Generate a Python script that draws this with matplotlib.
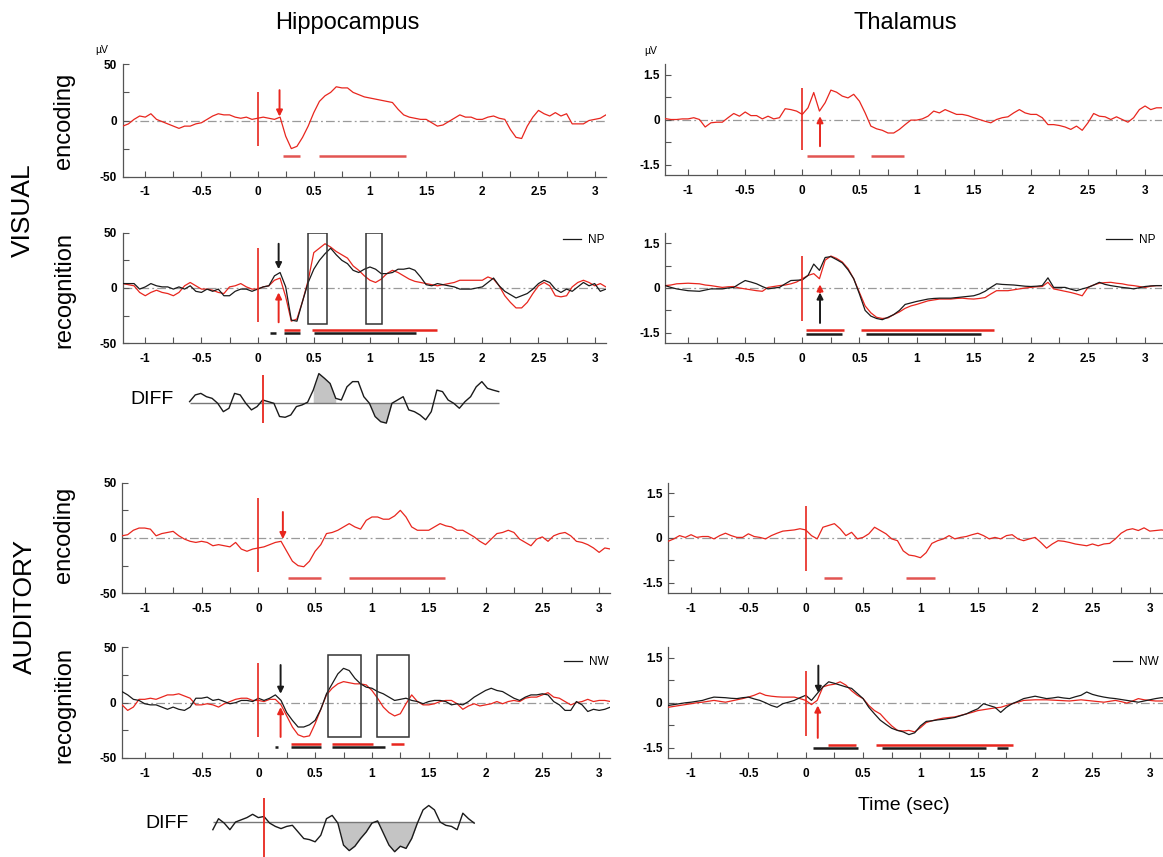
import numpy as np
import matplotlib
matplotlib.use("Agg")
import matplotlib.pyplot as plt
from matplotlib.patches import Rectangle

plt.rcParams['font.family'] = ['Liberation Sans', 'DejaVu Sans']

W, H = 1163, 857

##############################################################################
# Data
##############################################################################

# common time grid of the averaged traces, seconds (-1.2 .. 3.15, 88 samples)
t = np.round(np.arange(-1.2, 3.151, 0.05), 2)

# Hippocampus, microvolts
hip_vis_enc = [-5, -3, 1, 4, 3, 6, 1, -1, -3, -5,
               -7, -5, -5, -3, -2, 1, 4, 6, 5, 5,
               3, 2, 3, 1, 2, 3, 2, 1, 3, -14,
               -25, -23, -15, -5, 7, 17, 22, 25, 30, 29,
               29, 25, 23, 21, 20, 19, 18, 17, 16, 10,
               5, 3, 2, 1, 1, -2, -5, -4, -1, 2,
               5, 3, 3, 1, 1, 3, 4, 2, 1, -8,
               -15, -16, -5, 3, 9, 6, 4, 7, 4, 6,
               -3, -3, -3, 0, 1, 2, 5, 5]
hip_vis_rec_red = [4, 3, 2, -4, -7, -4, -2, -4, -5, -7,
                   -4, 2, 5, 2, -1, -1, -2, -4, -5, 1,
                   2, 4, 1, -1, -1, 1, 2, 7, 9, -8,
                   -30, -28, -12, 7, 32, 36, 40, 37, 33, 30,
                   27, 20, 16, 11, 7, 5, 8, 13, 16, 14,
                   11, 8, 6, 5, 4, 3, 2, 3, 4, 5,
                   7, 7, 7, 7, 7, 10, 8, 2, -7, -13,
                   -18, -18, -13, -5, 2, 5, 2, -7, -8, -7,
                   1, 5, 7, 5, 2, 4, 1, 1]
hip_vis_rec_black = [4, 4, 4, -1, 1, 4, 2, 1, 1, -1,
                     1, -1, 2, -3, -4, -1, -3, -1, -7, -7,
                     -3, -1, -1, -3, -1, 1, 2, 11, 14, 1,
                     -29, -30, -12, 5, 17, 25, 31, 36, 30, 25,
                     22, 16, 14, 17, 19, 17, 13, 13, 14, 17,
                     17, 18, 16, 10, 3, 2, 4, 3, 2, 1,
                     -1, -1, -1, 0, 1, 5, 9, 2, -3, -6,
                     -9, -7, -5, -1, 4, 7, 5, -1, -4, -1,
                     -3, 1, 5, 2, 4, -3, -1, -1]
hip_aud_enc = [2, 3, 7, 9, 9, 8, 2, 4, 5, 6,
               2, -1, -3, -4, -3, -4, -7, -6, -7, -8,
               -4, -10, -12, -10, -9, -8, -6, -4, -3, -12,
               -21, -25, -26, -21, -12, -6, 4, 5, 7, 10,
               13, 10, 8, 16, 19, 19, 17, 17, 20, 25,
               19, 10, 7, 7, 7, 10, 13, 11, 10, 7,
               7, 4, 1, -3, -6, -1, 4, 5, 7, 5,
               -1, -4, -7, -1, 1, -3, 2, 4, 5, 2,
               -3, -4, -6, -9, -13, -9, -10, -10]
hip_aud_rec_red = [-2, -7, -4, 3, 3, 4, 3, 5, 7, 7,
                   8, 6, 4, -2, -2, -1, -2, -4, -1, 1,
                   3, 4, 4, 2, 2, 1, 3, 3, -2, -12,
                   -22, -29, -31, -30, -19, -6, 7, 13, 17, 19,
                   18, 17, 17, 16, 11, 4, -4, -9, -12, -10,
                   -1, 7, 1, -2, -2, -1, 1, 2, 2, -1,
                   -6, -3, -1, -3, -2, -1, 1, -1, 1, 2,
                   1, 4, 5, 5, 7, 9, 5, 4, 1, -2,
                   0, 1, 3, 1, 2, 2, 1, 1]
hip_aud_rec_black = [10, 7, 3, 2, -1, -2, -2, -4, -6, -4,
                     -6, -7, -4, 4, 4, 5, 2, 3, 1, -1,
                     0, 2, 2, 1, 4, 2, 4, 7, 2, -9,
                     -16, -22, -22, -20, -16, -6, 8, 17, 26, 31,
                     29, 22, 17, 14, 13, 10, 8, 5, 2, 3,
                     4, 2, 1, -1, 1, 2, 2, 1, -2, -1,
                     -2, 1, 5, 8, 11, 13, 11, 10, 7, 4,
                     2, 5, 7, 7, 8, 7, 1, -2, -7, -7,
                     1, -2, -8, -6, -7, -6, -4, -4]

# Thalamus, microvolts
tha_vis_enc = [0.03, 0.0, 0.0, 0.02, 0.02, 0.06, 0.0, -0.25, -0.11, -0.09,
               -0.09, 0.06, 0.2, 0.11, 0.25, 0.13, 0.13, 0.02, 0.11, 0.02,
               0.06, 0.36, 0.33, 0.28, 0.17, 0.39, 0.9, 0.28, 0.56, 0.98,
               0.91, 0.78, 0.72, 0.84, 0.61, 0.22, -0.22, -0.31, -0.36, -0.45,
               -0.45, -0.33, -0.17, -0.02, -0.02, 0.02, 0.11, 0.28, 0.22, 0.33,
               0.25, 0.17, 0.17, 0.13, 0.06, 0.0, -0.06, -0.11, 0.0, 0.06,
               0.09, 0.22, 0.33, 0.22, 0.17, 0.17, 0.06, -0.17, -0.17, -0.2,
               -0.25, -0.33, -0.22, -0.36, -0.11, 0.2, 0.11, 0.09, 0.0, 0.09,
               0.0, -0.09, 0.06, 0.33, 0.45, 0.33, 0.39, 0.39]
tha_vis_rec_red = [0.08, 0.1, 0.14, 0.15, 0.16, 0.15, 0.14, 0.1, 0.08, 0.05,
                   0.02, 0.04, 0.05, 0.0, -0.03, -0.06, -0.09, -0.11, 0.02, 0.05,
                   0.08, 0.1, 0.14, 0.2, 0.31, 0.42, 0.48, 0.31, 0.93, 1.07,
                   0.99, 0.87, 0.65, 0.31, -0.15, -0.6, -0.83, -0.98, -1.02, -1.0,
                   -0.89, -0.8, -0.68, -0.6, -0.55, -0.49, -0.43, -0.4, -0.37, -0.37,
                   -0.37, -0.35, -0.34, -0.36, -0.37, -0.35, -0.32, -0.2, -0.09, -0.09,
                   -0.09, -0.06, -0.03, 0.0, 0.02, 0.04, 0.05, 0.19, -0.03, -0.07,
                   -0.11, -0.15, -0.2, -0.26, 0.02, 0.1, 0.16, 0.18, 0.19, 0.16,
                   0.14, 0.1, 0.08, 0.05, 0.02, 0.06, 0.08, 0.08]
tha_vis_rec_black = [0.08, 0.02, -0.03, -0.06, -0.09, -0.1, -0.11, -0.07, -0.03, -0.03,
                     -0.03, 0.0, 0.02, 0.14, 0.25, 0.2, 0.14, 0.05, -0.03, 0.0,
                     0.02, 0.14, 0.25, 0.26, 0.27, 0.42, 0.8, 0.59, 1.02, 1.05,
                     0.95, 0.84, 0.61, 0.31, -0.2, -0.75, -0.94, -1.02, -1.06, -0.98,
                     -0.89, -0.75, -0.55, -0.5, -0.45, -0.41, -0.37, -0.35, -0.34, -0.34,
                     -0.34, -0.32, -0.3, -0.28, -0.26, -0.2, -0.11, 0.02, 0.14, 0.12,
                     0.11, 0.1, 0.08, 0.06, 0.05, 0.06, 0.08, 0.34, 0.02, 0.02,
                     0.02, -0.04, -0.09, -0.03, 0.02, 0.1, 0.19, 0.12, 0.08, 0.05,
                     0.02, 0.0, -0.03, 0.01, 0.05, 0.07, 0.08, 0.08]
tha_aud_enc = [-0.11, -0.03, 0.08, 0.02, 0.11, 0.02, 0.05, 0.05, -0.03, 0.08,
               0.16, 0.08, 0.02, 0.02, 0.14, 0.05, 0.02, -0.03, 0.08, 0.16,
               0.23, 0.25, 0.27, 0.31, 0.27, 0.08, -0.03, 0.36, 0.42, 0.48,
               0.31, 0.08, 0.19, -0.03, 0.02, 0.14, 0.36, 0.25, 0.14, -0.03,
               -0.09, -0.43, -0.57, -0.6, -0.66, -0.49, -0.18, -0.09, -0.03, 0.08,
               -0.03, 0.02, 0.05, 0.11, 0.16, 0.08, -0.03, 0.02, -0.03, 0.08,
               0.11, -0.03, -0.09, -0.03, 0.02, -0.15, -0.34, -0.2, -0.09, -0.11,
               -0.15, -0.2, -0.23, -0.26, -0.2, -0.26, -0.2, -0.18, -0.03, 0.16,
               0.27, 0.31, 0.25, 0.34, 0.23, 0.25, 0.27, 0.25]
tha_aud_rec_red = [-0.15, -0.12, -0.09, -0.06, -0.03, 0.0, 0.02, 0.05, 0.08, 0.05,
                   0.02, 0.06, 0.1, 0.14, 0.19, 0.25, 0.33, 0.25, 0.22, 0.2,
                   0.19, 0.19, 0.19, 0.14, 0.08, -0.06, 0.08, 0.53, 0.59, 0.62,
                   0.7, 0.59, 0.4, 0.25, 0.14, -0.09, -0.26, -0.37, -0.58, -0.77,
                   -0.92, -0.94, -0.92, -0.97, -0.83, -0.66, -0.6, -0.55, -0.51, -0.49,
                   -0.47, -0.42, -0.37, -0.32, -0.26, -0.23, -0.2, -0.17, -0.15, -0.09,
                   -0.03, 0.02, 0.08, 0.09, 0.1, 0.1, 0.1, 0.09, 0.08, 0.07,
                   0.06, 0.08, 0.1, 0.08, 0.06, 0.04, 0.02, 0.05, 0.08, 0.04,
                   -0.01, 0.06, 0.14, 0.1, 0.08, 0.06, 0.06, 0.06]
tha_aud_rec_black = [-0.09, -0.06, -0.03, 0.0, 0.02, 0.05, 0.08, 0.14, 0.19, 0.18,
                     0.17, 0.15, 0.14, 0.17, 0.19, 0.13, 0.08, 0.0, -0.09, -0.15,
                     -0.03, 0.02, 0.08, 0.17, 0.25, 0.08, 0.31, 0.53, 0.7, 0.65,
                     0.59, 0.53, 0.48, 0.31, 0.14, -0.15, -0.37, -0.58, -0.72, -0.85,
                     -0.92, -0.97, -1.06, -1.0, -0.77, -0.62, -0.6, -0.57, -0.55, -0.52,
                     -0.49, -0.43, -0.37, -0.28, -0.2, -0.03, -0.09, -0.15, -0.32, -0.15,
                     -0.03, 0.05, 0.14, 0.18, 0.22, 0.18, 0.14, 0.16, 0.19, 0.16,
                     0.14, 0.2, 0.25, 0.36, 0.28, 0.23, 0.19, 0.16, 0.14, 0.11,
                     0.08, 0.05, 0.02, 0.06, 0.1, 0.14, 0.17, 0.17]

# difference waves (hippocampus), arbitrary units
diff_vis_t = np.round(np.arange(-0.65, 2.101, 0.05), 2)
diff_vis = [1.5, 7.6, 9, 6, 4.5, 0, -7.6, -4.5, 9, 7.6,
            0, -6, -3, 3, 1.5, 0, -12, -12.7, -10.6, -3,
            -1.5, 1, 12, 27, 22.7, 18, 4.5, 3, 15, 19.7,
            19.7, 6, 0, -12, -16.7, -18, 0, 3, 6, -6,
            -7.6, -10.6, -15, -7.6, 12, 10.6, 3, 0, -4.5, 1.5,
            6, 15, 19.7, 13.6, 12, 10.6]
diff_aud_t = np.round(np.arange(-0.45, 1.851, 0.05), 2)
diff_aud = [-7, 3, -1, -7, 0, 2, 4, 7, 4, 5,
            -1, -4, -6, -4, -3, -9, -15, -16, -18, -12,
            3, 6, -1, -21, -26, -22, -15, -9, -1, 1,
            -10, -21, -27, -22, -24, -15, -1, 11, 15, 11,
            0, -3, -4, -7, 8, 3, -1]
diff_vis_windows = [(0.44, 0.67), (0.95, 1.15)]
diff_aud_windows = [(0.64, 0.98), (1.0, 1.36)]

# significant intervals (s) and their level on the axis
sig_hip_vis_enc = [(0.225, 0.374), (0.543, 1.323)]
sig_hip_vis_rec_red = [(0.231, 0.374), (0.483, 1.596)]
sig_hip_vis_rec_black = [(0.107, 0.166), (0.231, 0.374), (0.504, 1.409)]
sig_hip_aud_enc = [(0.261, 0.549), (0.795, 1.64)]
sig_hip_aud_rec_red = [(0.285, 0.552), (0.652, 1.011), (1.165, 1.284)]
sig_hip_aud_rec_black = [(0.148, 0.172), (0.285, 0.552), (0.652, 1.112)]
sig_tha_vis_enc = [(0.038, 0.455), (0.598, 0.89)]
sig_tha_vis_rec_red = [(0.029, 0.368), (0.514, 1.678)]
sig_tha_vis_rec_black = [(0.035, 0.344), (0.554, 1.564)]
sig_tha_aud_enc = [(0.163, 0.318), (0.875, 1.126)]
sig_tha_aud_rec_red = [(0.19, 0.44), (0.613, 1.803)]
sig_tha_aud_rec_black = [(0.067, 0.455), (0.665, 1.57), (1.672, 1.765)]

# analysis windows (boxes) in the hippocampal recognition plots
win_hip_vis = [(0.445, 0.617), (0.966, 1.106)]
win_hip_aud = [(0.611, 0.907), (1.044, 1.329)]

X_TICKS = [-1, -0.5, 0, 0.5, 1, 1.5, 2, 2.5, 3]
X_TICK_LABELS = ['-1', '-0.5', '0', '0.5', '1', '1.5', '2', '2.5', '3']

RED = '#e8261e'
BAR_RED = '#e25552'
BLACK = '#1a1a1a'

##############################################################################
# Plotting helpers
##############################################################################

fig = plt.figure(figsize=(W / 100, H / 100), dpi=100)


def px_rect(x0, y0, x1, y1):
    # pixel box (top-left origin) -> figure fraction rect
    return [x0 / W, 1 - y1 / H, (x1 - x0) / W, (y1 - y0) / H]


def make_axes(box, xlim, lim, yticks, ylabels):
    ax = fig.add_axes(px_rect(*box))
    ax.set_xlim(*xlim)
    ax.set_ylim(-lim, lim)
    for side in ("top", "right"):
        ax.spines[side].set_visible(False)
    for side in ("left", "bottom"):
        ax.spines[side].set_color('#555555')
        ax.spines[side].set_linewidth(0.9)
    ax.set_xticks(X_TICKS)
    ax.set_xticklabels(X_TICK_LABELS)
    ax.set_xticks(np.arange(-0.75, 3.0, 0.5), minor=True)
    ax.set_yticks(yticks[::2])
    ax.set_yticklabels(ylabels)
    ax.set_yticks(yticks[1::2], minor=True)
    ax.tick_params(which='both', direction='in', length=4, width=0.8,
                   color='#555555', labelsize=8.5)
    ax.tick_params(axis='x', pad=7)
    ax.tick_params(axis='y', pad=4)
    for lab in ax.get_xticklabels() + ax.get_yticklabels():
        lab.set_fontweight('bold')
    ax.axhline(0, color='#9a9a9a', lw=0.9, ls=(0, (7, 2.5, 1.5, 2.5)), zorder=1)
    return ax


def draw_panel(ax, traces, stim, arrows, bars, boxes=(), legend=None):
    handles = []
    for values, color in traces:
        h, = ax.plot(t, values, color=color, lw=0.9, zorder=3)
        handles.append(h)
    ax.vlines(0, stim[0], stim[1], color=RED, lw=1.2, zorder=4)
    for x, tail, tip, color in arrows:
        ax.annotate('', xy=(x, tip), xytext=(x, tail),
                    arrowprops=dict(arrowstyle='-|>', color=color, lw=1.4,
                                    mutation_scale=9, shrinkA=0, shrinkB=0),
                    zorder=5)
    for spans, level, color in bars:
        for a, b in spans:
            ax.hlines(level, a, b, color=color, lw=1.8, zorder=3)
    for (a, b), (lo, hi) in boxes:
        ax.add_patch(Rectangle((a, lo), b - a, hi - lo, fill=False,
                               edgecolor='#333333', lw=1.1, zorder=4))
    if legend is not None:
        label, anchor, hlen = legend
        ax.legend([handles[-1]], [label], loc='upper left', bbox_to_anchor=anchor,
                  frameon=False, fontsize=8.5, handlelength=hlen,
                  handletextpad=0.6, borderpad=0, borderaxespad=0)


def draw_diff(box, xlim, tt, values, windows, stim):
    ax = fig.add_axes(px_rect(*box))
    ax.set_xlim(*xlim)
    ax.set_ylim(-31.8, 31.8)
    ax.axis('off')
    tt = np.asarray(tt)
    values = np.asarray(values, dtype=float)
    for a, b in windows:
        mask = (tt >= a - 1e-9) & (tt <= b + 1e-9)
        ax.fill_between(tt, values, 0, where=mask, color='#c4c4c4', lw=0,
                        zorder=1)
    ax.hlines(0, tt[0], tt[-1], color='#777777', lw=1.0, zorder=2)
    ax.plot(tt, values, color=BLACK, lw=1.0, zorder=3)
    ax.vlines(0, stim[0], stim[1], color=RED, lw=1.3, zorder=4)
    return ax


HIP_TICKS = [-50, -25, 0, 25, 50]
HIP_LABELS = ['-50', '0', '50']
THA_TICKS = [-1.5, -0.75, 0, 0.75, 1.5]
THA_LABELS = ['-1.5', '0', '1.5']

##############################################################################
# Hippocampus column
##############################################################################

ax = make_axes((122.8, 64.3, 605.9, 176.7), (-1.2, 3.1), 50, HIP_TICKS, HIP_LABELS)
draw_panel(ax, [(hip_vis_enc, RED)], (-23, 25),
           [(0.195, 27, 3.5, RED)],
           [(sig_hip_vis_enc, -32, BAR_RED)])

ax = make_axes((122.8, 232.7, 605.9, 343.3), (-1.2, 3.1), 50, HIP_TICKS, HIP_LABELS)
draw_panel(ax, [(hip_vis_rec_red, RED), (hip_vis_rec_black, BLACK)], (-31, 36),
           [(0.187, 40, 17, BLACK), (0.187, -31, -4, RED)],
           [(sig_hip_vis_rec_red, -38, RED), (sig_hip_vis_rec_black, -41, BLACK)],
           boxes=[(w, (-33, 50)) for w in win_hip_vis],
           legend=('NP', (0.911, 0.985), 1.5))

ax = make_axes((122.0, 482.7, 610.5, 593.3), (-1.2, 3.1), 50, HIP_TICKS, HIP_LABELS)
draw_panel(ax, [(hip_aud_enc, RED)], (-31, 36),
           [(0.216, 23.5, -1, RED)],
           [(sig_hip_aud_enc, -36, BAR_RED)])

ax = make_axes((122.0, 647.3, 610.5, 758.0), (-1.2, 3.1), 50, HIP_TICKS, HIP_LABELS)
draw_panel(ax, [(hip_aud_rec_red, RED), (hip_aud_rec_black, BLACK)], (-31, 36),
           [(0.196, 34, 8, BLACK), (0.196, -31, -4, RED)],
           [(sig_hip_aud_rec_red, -37, RED), (sig_hip_aud_rec_black, -40, BLACK)],
           boxes=[(w, (-31, 43)) for w in win_hip_aud],
           legend=('NW', (0.905, 0.92), 1.5))

##############################################################################
# Thalamus column (cut by the right edge of the figure)
##############################################################################

ax = make_axes((665.2, 64.0, 1162.2, 175.0), (-1.2, 3.15), 1.85, THA_TICKS, THA_LABELS)
draw_panel(ax, [(tha_vis_enc, RED)], (-1.0, 1.06),
           [(0.155, -0.89, 0.11, RED)],
           [(sig_tha_vis_enc, -1.23, BAR_RED)])

ax = make_axes((665.2, 232.7, 1162.2, 343.3), (-1.2, 3.15), 1.85, THA_TICKS, THA_LABELS)
draw_panel(ax, [(tha_vis_rec_red, RED), (tha_vis_rec_black, BLACK)], (-1.09, 1.07),
           [(0.155, -1.17, -0.15, BLACK), (0.155, -0.15, 0.12, RED)],
           [(sig_tha_vis_rec_red, -1.42, RED), (sig_tha_vis_rec_black, -1.53, BLACK)],
           legend=('NP', (0.887, 0.985), 2.2))

ax = make_axes((668.1, 482.7, 1167.0, 593.3), (-1.2, 3.15), 1.85, THA_TICKS, THA_LABELS)
draw_panel(ax, [(tha_aud_enc, RED)], (-1.09, 1.07), [],
           [(sig_tha_aud_enc, -1.34, BAR_RED)])

ax = make_axes((668.1, 647.3, 1167.0, 758.3), (-1.2, 3.15), 1.85, THA_TICKS, THA_LABELS)
draw_panel(ax, [(tha_aud_rec_red, RED), (tha_aud_rec_black, BLACK)], (-1.09, 1.07),
           [(0.11, 1.24, 0.33, BLACK), (0.105, -1.17, -0.09, RED)],
           [(sig_tha_aud_rec_red, -1.40, RED), (sig_tha_aud_rec_black, -1.51, BLACK)],
           legend=('NW', (0.892, 0.92), 1.6))

##############################################################################
# Difference waves
##############################################################################

draw_diff((185, 368.3, 505, 438.3), (-0.691, 2.156), diff_vis_t, diff_vis,
          diff_vis_windows, (-17.6, 25.7))
draw_diff((205, 787, 485, 857), (-0.519, 1.945), diff_aud_t, diff_aud,
          diff_aud_windows, (-31.8, 21.8))

##############################################################################
# Texts
##############################################################################


def fig_text(x, y, s, **kw):
    fig.text(x / W, 1 - y / H, s, ha='center', va='center', **kw)


fig_text(347, 23, 'Hippocampus', fontsize=17)
fig_text(905, 23, 'Thalamus', fontsize=17)
fig_text(102, 50, 'µV', fontsize=7.5)
fig_text(651, 51, 'µV', fontsize=7.5)
fig_text(23, 210, 'VISUAL', fontsize=19, rotation=90)
fig_text(25, 607, 'AUDITORY', fontsize=19, rotation=90)
fig_text(64, 121, 'encoding', fontsize=17, rotation=90)
fig_text(64, 290, 'recognition', fontsize=17, rotation=90)
fig_text(64, 535, 'encoding', fontsize=17, rotation=90)
fig_text(64, 705, 'recognition', fontsize=17, rotation=90)
fig_text(152, 399, 'DIFF', fontsize=14)
fig_text(167, 823, 'DIFF', fontsize=14)
fig_text(904, 805, 'Time (sec)', fontsize=14)

fig.savefig('out.png', dpi=100)
